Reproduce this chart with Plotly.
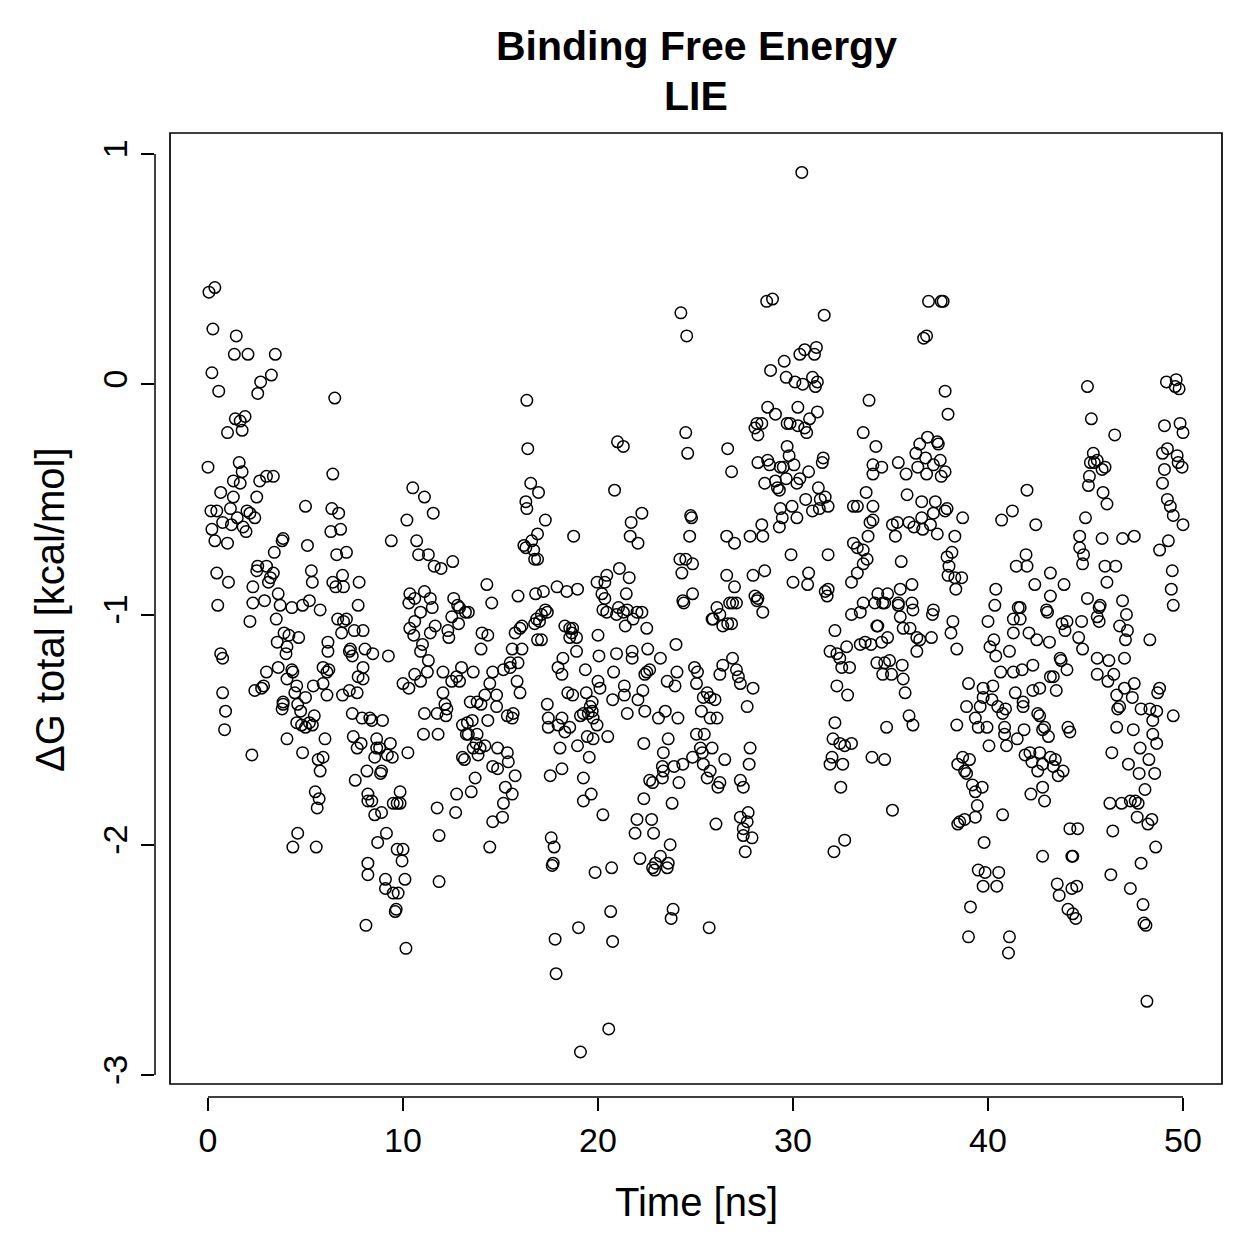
import plotly.graph_objects as go

# ---------------- data: (time [ns], dG total [kcal/mol]) ----------------
seg_00_08a = [(0.05,0.40),(0.35,0.42),(0.25,0.24),(1.45,0.21),(1.35,0.13),(2.05,0.13),(3.45,0.13),(0.2,0.05),(0.55,-0.03),(2.7,0.01),
(3.25,0.04),(2.55,-0.04),(6.5,-0.06),(1.9,-0.14),(1.4,-0.15),(1.65,-0.16),(1.0,-0.21),(1.75,-0.20),(0.0,-0.36),(1.6,-0.34),
(1.75,-0.38),(1.3,-0.42),(1.65,-0.43),(2.65,-0.42),(3.0,-0.40),(3.35,-0.40),(6.4,-0.39),(0.65,-0.47),(1.3,-0.49),(2.5,-0.49),
(0.15,-0.55),(0.45,-0.55),(1.15,-0.54),(2.0,-0.55),(2.15,-0.56),(2.4,-0.58),(1.5,-0.58),(5.0,-0.53),(6.35,-0.54),(6.7,-0.56),
(0.2,-0.63),(0.75,-0.60),(1.2,-0.61),(1.8,-0.62),(1.95,-0.64),(0.35,-0.68),(1.0,-0.69),(6.3,-0.64),(6.8,-0.63),(3.8,-0.68),
(3.85,-0.67),(3.4,-0.73),(5.1,-0.70),(6.6,-0.74),(7.1,-0.73),(0.45,-0.82),(1.05,-0.86),(2.55,-0.79),(2.5,-0.81),(3.0,-0.79),
(3.35,-0.82),(3.2,-0.84),(3.1,-0.86),(5.3,-0.81),(5.35,-0.86),(6.9,-0.83),(6.4,-0.86),(6.55,-0.88),(6.95,-0.88),(7.75,-0.86),
(2.3,-0.88),(0.5,-0.96),(2.3,-0.95),(2.9,-0.94),(3.6,-0.91),(3.7,-0.96),(4.3,-0.97),(4.85,-0.96),(5.2,-0.94),(5.75,-0.98),(7.7,-0.96)]

seg_00_08b = [(2.15,-1.03),(3.5,-1.02),(6.65,-1.02),(6.95,-1.03),(7.1,-1.02),(6.85,-1.08),(7.5,-1.07),(7.95,-1.07),(3.9,-1.08),(4.15,-1.09),
(4.65,-1.10),(3.55,-1.12),(4.05,-1.14),(6.15,-1.12),(6.15,-1.16),(4.0,-1.17),(0.65,-1.17),(0.75,-1.19),(7.25,-1.16),(7.4,-1.18),
(7.3,-1.15),(8.05,-1.15),(3.0,-1.25),(3.6,-1.23),(4.3,-1.24),(4.35,-1.25),(5.9,-1.23),(6.2,-1.24),(6.1,-1.25),(7.95,-1.23),
(7.7,-1.27),(7.95,-1.28),(4.05,-1.28),(4.55,-1.31),(5.4,-1.31),(5.9,-1.30),(2.4,-1.33),(2.75,-1.32),(2.85,-1.31),(6.9,-1.35),
(7.25,-1.33),(7.65,-1.34),(6.1,-1.35),(0.75,-1.34),(5.0,-1.36),(4.45,-1.34),(3.85,-1.38),(3.85,-1.39),(3.8,-1.41),(4.6,-1.39),
(4.75,-1.42),(0.9,-1.42),(5.45,-1.44),(7.4,-1.43),(7.9,-1.45),(8.3,-1.45),(4.55,-1.47),(4.8,-1.48),(5.0,-1.49),(5.2,-1.47),
(5.35,-1.48),(4.05,-1.54),(6.0,-1.54),(7.45,-1.53),(7.65,-1.58),(7.85,-1.56),(0.85,-1.50),(2.25,-1.61),(4.85,-1.60),(5.65,-1.63),
(5.9,-1.62),(5.75,-1.68),(7.55,-1.72),(8.15,-1.68),(5.5,-1.77),(5.7,-1.80),(5.6,-1.84),(8.2,-1.78),(8.2,-1.81),(4.6,-1.95),
(4.35,-2.01),(5.55,-2.01),(8.2,-2.08),(8.2,-2.13),(8.1,-2.35)]

seg_08_17a = [(16.35,-0.07),(16.4,-0.28),(16.55,-0.43),(16.3,-0.51),(16.35,-0.54),(10.5,-0.45),(11.1,-0.49),(11.55,-0.56),(10.2,-0.59),(9.4,-0.68),
(10.7,-0.68),(10.8,-0.74),(11.3,-0.74),(11.6,-0.79),(11.95,-0.80),(12.55,-0.77),(16.2,-0.70),(16.3,-0.71),(16.6,-0.68),(16.7,-0.72),
(16.9,-0.76),(14.3,-0.87),(15.9,-0.92),(16.8,-0.91),(10.35,-0.91),(10.6,-0.93),(11.1,-0.90),(11.4,-0.93),(10.3,-0.95),(11.5,-0.97),
(12.6,-0.93),(12.9,-0.97),(13.2,-0.99),(14.55,-0.95)]

seg_08_17b = [(12.8,-0.96),(13.35,-0.99),(10.35,-1.06),(10.55,-1.09),(10.6,-1.03),(10.9,-0.99),(11.65,-1.05),(11.4,-1.08),(12.3,-1.07),(12.35,-1.10),
(12.5,-1.01),(12.85,-1.04),(14.05,-1.08),(14.35,-1.09),(14.0,-1.15),(15.75,-1.08),(16.1,-1.05),(16.0,-1.06),(16.75,-1.04),(17.0,-1.03),
(16.9,-1.11),(15.6,-1.15),(16.1,-1.15),(8.45,-1.17),(9.25,-1.18),(10.9,-1.16),(11.3,-1.20),(11.0,-1.13),(10.0,-1.30),(10.3,-1.32),
(10.6,-1.26),(10.9,-1.29),(11.25,-1.25),(12.05,-1.25),(12.5,-1.29),(12.05,-1.34),(12.15,-1.39),(12.25,-1.41),(12.2,-1.44),(12.75,-1.27),
(13.0,-1.23),(12.9,-1.29),(13.6,-1.25),(14.6,-1.25),(15.15,-1.24),(15.5,-1.23),(15.9,-1.21),(15.5,-1.21),(14.45,-1.30),(15.85,-1.29),
(16.0,-1.34),(14.8,-1.35),(14.2,-1.35),(14.0,-1.39),(13.8,-1.38),(13.45,-1.38),(14.8,-1.40),(14.35,-1.46),(15.35,-1.44),(15.65,-1.43),
(15.6,-1.45),(11.1,-1.43),(11.75,-1.43),(11.05,-1.52),(11.8,-1.52),(8.4,-1.46),(8.95,-1.46),(13.05,-1.48),(13.3,-1.47),(13.55,-1.46),
(13.25,-1.52),(13.35,-1.52),(13.8,-1.52),(13.75,-1.56),(13.6,-1.58),(13.95,-1.58),(14.2,-1.57),(13.85,-1.61),(13.05,-1.62),(13.15,-1.63),
(13.7,-1.71),(14.85,-1.58),(15.35,-1.60),(15.4,-1.64),(14.6,-1.66),(14.85,-1.67),(15.75,-1.70),(15.25,-1.75),(15.6,-1.78),(15.15,-1.82),
(15.1,-1.88),(14.6,-1.90),(14.45,-2.01),(8.65,-1.54),(9.35,-1.56),(8.65,-1.58),(9.45,-1.62),(8.8,-1.58),(8.55,-1.62),(9.2,-1.61),
(10.25,-1.60),(8.9,-1.68),(8.85,-1.69),(8.4,-1.81),(9.5,-1.82),(9.7,-1.82),(9.85,-1.77),(9.85,-1.82),(8.55,-1.87),(8.9,-1.86),
(11.75,-1.84),(12.7,-1.86),(12.75,-1.78),(13.5,-1.77),(11.85,-1.96),(9.15,-1.95),(8.7,-1.99),(9.7,-2.02),(10.0,-2.02),(9.95,-2.07),
(9.1,-2.15),(10.1,-2.15),(9.1,-2.19),(9.5,-2.21),(9.75,-2.21),(9.65,-2.28),(9.6,-2.29),(11.85,-2.16),(10.15,-2.45)]

seg_17_26a = [(24.25,0.31),(24.55,0.21),(21.0,-0.25),(21.3,-0.27),(24.5,-0.21),(24.6,-0.30),(16.95,-0.47),(20.85,-0.46),(22.25,-0.56),(21.7,-0.60),
(21.65,-0.66),(22.05,-0.69),(24.75,-0.57),(24.8,-0.58),(24.7,-0.66),(17.3,-0.59),(16.9,-0.65),(16.75,-0.76),(18.75,-0.66),(24.2,-0.76),
(24.5,-0.76),(24.85,-0.78),(24.3,-0.82),(21.1,-0.80),(21.6,-0.84),(21.45,-0.91),(20.45,-0.83),(19.95,-0.86),(20.35,-0.86),(20.2,-0.91),
(20.35,-0.93),(17.2,-0.90),(17.9,-0.88),(18.4,-0.90),(18.95,-0.89),(24.85,-0.91),(24.35,-0.94),(24.4,-0.95),(17.3,-0.98)]

seg_17_26b = [(16.85,-1.02),(17.1,-1.00),(17.4,-0.99),(17.1,-1.11),(18.3,-1.05),(18.55,-1.06),(18.7,-1.06),(18.65,-1.08),(18.55,-1.10),(18.9,-1.10),
(18.9,-1.16),(20.0,-1.09),(20.25,-0.98),(20.45,-0.99),(20.95,-1.00),(21.05,-0.97),(21.3,-0.99),(21.5,-0.98),(22.0,-0.99),(21.8,-1.02),
(22.25,-0.99),(21.4,-1.05),(22.5,-1.06),(24.0,-1.13),(25.85,-1.02),(17.95,-1.23),(18.2,-1.19),(18.15,-1.26),(19.35,-1.24),(20.05,-1.18),
(20.95,-1.17),(20.8,-1.25),(21.75,-1.16),(21.75,-1.19),(22.55,-1.15),(23.2,-1.19),(22.5,-1.25),(22.65,-1.24),(22.4,-1.26),(23.55,-1.29),
(23.95,-1.31),(24.05,-1.25),(24.95,-1.23),(25.1,-1.25),(25.05,-1.30),(18.45,-1.34),(18.7,-1.35),(19.4,-1.34),(20.1,-1.32),(20.0,-1.29),
(19.7,-1.38),(19.6,-1.40),(20.75,-1.37),(21.35,-1.35),(21.35,-1.31),(22.3,-1.33),(22.05,-1.37),(25.4,-1.36),(25.6,-1.34),(25.75,-1.36),
(17.4,-1.39),(17.45,-1.45),(17.45,-1.49),(18.15,-1.45),(17.95,-1.48),(18.3,-1.51),(18.55,-1.49),(19.1,-1.44),(19.25,-1.43),(19.5,-1.43),
(19.7,-1.42),(19.75,-1.45),(19.95,-1.48),(19.45,-1.53),(19.75,-1.54),(18.95,-1.57),(19.55,-1.62),(20.5,-1.53),(18.05,-1.58),(21.5,-1.43),
(22.4,-1.42),(23.1,-1.45),(23.45,-1.42),(24.1,-1.45),(22.35,-1.56),(23.35,-1.60),(23.6,-1.54),(25.05,-1.52),(25.45,-1.52),(25.25,-1.58),
(25.35,-1.60),(24.85,-1.62),(25.4,-1.65),(25.6,-1.71),(25.75,-1.68),(23.3,-1.66),(23.35,-1.68),(23.3,-1.71),(23.9,-1.66),(24.35,-1.65),
(24.15,-1.73),(22.8,-1.73),(22.65,-1.72),(17.55,-1.70),(18.15,-1.67),(19.25,-1.71),(19.65,-1.78),(19.25,-1.81),(20.25,-1.87),(22.35,-1.80),
(23.8,-1.82),(22.0,-1.89),(22.75,-1.89),(21.9,-1.95),(22.85,-1.95),(23.7,-2.0),(17.6,-1.97),(17.75,-2.01),(17.65,-2.09),(17.7,-2.08),
(19.85,-2.12),(20.7,-2.10),(22.15,-2.06),(22.8,-2.10),(22.95,-2.08),(22.9,-2.11),(23.2,-2.05),(23.6,-2.08),(23.55,-2.10),(20.65,-2.29),
(23.85,-2.28),(23.75,-2.32),(19.0,-2.36),(17.8,-2.41),(20.75,-2.42),(25.7,-2.36),(17.85,-2.56),(20.55,-2.80),(19.1,-2.90)]

seg_26_34a = [(30.45,0.92),(28.65,0.36),(28.95,0.37),(31.6,0.30),(30.35,0.13),(30.6,0.15),(31.1,0.13),(31.2,0.16),(29.55,0.10),(28.85,0.06),
(29.65,0.03),(30.1,0.01),(30.5,0.00),(31.0,0.03),(31.25,0.01),(31.15,-0.01),(33.9,-0.07),(28.7,-0.10),(29.1,-0.13),(30.25,-0.10),
(31.25,-0.12),(30.85,-0.15),(28.15,-0.17),(28.05,-0.19),(28.2,-0.22),(28.4,-0.17),(29.7,-0.17),(29.85,-0.17),(30.25,-0.18),(30.6,-0.19),
(30.7,-0.21),(33.6,-0.21),(34.25,-0.27),(26.65,-0.28),(26.85,-0.38),(29.7,-0.27),(29.8,-0.31),(30.05,-0.35),(31.55,-0.32),(31.5,-0.34),
(28.2,-0.34),(28.7,-0.33),(28.8,-0.35),(29.35,-0.36),(29.5,-0.36),(29.65,-0.41),(29.1,-0.42),(29.2,-0.45),(28.55,-0.43),(29.3,-0.46),
(30.35,-0.41),(30.2,-0.43),(30.8,-0.38),(34.1,-0.35),(34.1,-0.39),(31.3,-0.45),(31.65,-0.49),(31.4,-0.50),(31.8,-0.53),(31.35,-0.54),
(31.0,-0.55),(30.65,-0.50),(29.95,-0.53),(30.2,-0.58),(29.35,-0.54),(29.45,-0.58),(29.3,-0.62),(33.1,-0.53),(33.3,-0.53),(33.75,-0.47),
(34.1,-0.53),(33.95,-0.60),(34.1,-0.59),(33.85,-0.66),(28.4,-0.61),(28.45,-0.66),(27.8,-0.66),(26.6,-0.66),(27.0,-0.69),(29.9,-0.74),
(31.8,-0.74),(33.1,-0.69),(33.3,-0.71),(33.6,-0.72),(33.8,-0.76),(33.6,-0.78),(33.3,-0.82),(33.0,-0.86),(26.6,-0.83),(27.0,-0.88),
(27.95,-0.83),(28.55,-0.81),(30.0,-0.86),(30.8,-0.82),(30.75,-0.87),(31.65,-0.90),(31.8,-0.89),(31.75,-0.92),(28.05,-0.92),(28.2,-0.93),
(26.75,-0.95),(26.9,-0.95),(27.1,-0.95),(26.1,-0.97),(33.6,-0.95),(34.2,-0.95),(34.35,-0.91)]

seg_26_34b = [(25.9,-1.02),(26.25,-1.00),(26.4,-1.05),(26.65,-1.04),(26.85,-1.04),(28.15,-0.94),(28.45,-0.99),(32.15,-1.07),(31.9,-1.16),(32.25,-1.17),
(32.4,-1.19),(32.75,-1.14),(32.5,-1.23),(32.9,-1.23),(33.0,-1.00),(33.45,-0.99),(33.45,-1.13),(33.7,-1.12),(34.0,-1.13),(34.3,-1.05),
(34.3,-1.21),(32.25,-1.31),(32.8,-1.35),(32.15,-1.47),(32.05,-1.54),(32.4,-1.56),(32.65,-1.57),(33.0,-1.56),(32.0,-1.62),(31.9,-1.65),
(32.55,-1.65),(32.45,-1.75),(34.05,-1.62),(32.65,-1.98),(32.1,-2.03),(26.9,-1.19),(26.4,-1.22),(26.25,-1.26),(27.1,-1.24),(27.2,-1.27),
(27.3,-1.30),(27.95,-1.32),(27.65,-1.40),(26.0,-1.37),(25.3,-1.42),(25.75,-1.45),(26.1,-1.45),(25.85,-1.58),(26.5,-1.63),(26.25,-1.73),
(26.15,-1.75),(27.8,-1.58),(27.75,-1.65),(27.3,-1.72),(27.45,-1.75),(26.05,-1.91),(27.3,-1.88),(27.7,-1.86),(27.65,-1.90),(27.45,-1.93),
(27.45,-1.96),(27.9,-1.97),(27.55,-2.03)]

seg_34_43a = [(36.95,0.36),(37.6,0.36),(37.7,0.36),(36.7,0.20),(36.85,0.21),(37.8,-0.03),(37.95,-0.13),(34.55,-0.36),(35.4,-0.34),(35.8,-0.39),
(35.85,-0.48),(36.9,-0.23),(36.5,-0.26),(36.3,-0.30),(36.8,-0.32),(37.4,-0.25),(37.45,-0.26),(37.55,-0.33),(37.8,-0.38),(37.6,-0.40),
(36.85,-0.39),(36.4,-0.36),(37.2,-0.35),(36.6,-0.51),(37.3,-0.51),(37.8,-0.55),(37.9,-0.54),(37.2,-0.56),(36.6,-0.58),(36.65,-0.63),
(36.2,-0.62),(35.95,-0.60),(37.05,-0.61),(37.4,-0.65),(38.3,-0.66),(38.7,-0.58),(35.1,-0.61),(35.35,-0.60),(35.25,-0.66),(35.55,-0.77),
(37.9,-0.75),(38.15,-0.73),(38.0,-0.79),(37.95,-0.83),(38.3,-0.84),(38.65,-0.84),(38.35,-0.89),(34.85,-0.91),(34.7,-0.95),(35.5,-0.89),
(36.1,-0.87),(35.4,-0.95),(36.1,-0.95),(37.2,-0.98),(42.0,-0.46),(41.25,-0.55),(40.7,-0.59),(42.45,-0.61),(41.95,-0.74),(41.45,-0.79),
(42.0,-0.79),(43.2,-0.82),(42.4,-0.87),(43.2,-0.92),(40.4,-0.89),(40.35,-0.96),(41.55,-0.97),(41.65,-0.97),(43.0,-0.98)]

seg_34_43b = [(34.6,-0.95),(35.4,-0.96),(36.15,-0.98),(35.5,-1.01),(34.35,-1.05),(35.65,-1.06),(36.0,-1.06),(36.35,-1.10),(36.5,-1.11),(37.1,-1.10),
(37.15,-1.0),(36.35,-1.16),(34.55,-1.12),(34.85,-1.10),(34.7,-1.21),(34.95,-1.20),(35.6,-1.22),(34.6,-1.26),(35.05,-1.26),(35.65,-1.28),
(35.75,-1.34),(35.95,-1.44),(36.15,-1.48),(34.8,-1.49),(34.7,-1.63),(35.1,-1.85),(38.2,-1.03),(38.1,-1.08),(38.4,-1.15),(39.0,-1.30),
(38.9,-1.40),(38.4,-1.48),(38.45,-1.65),(38.7,-1.62),(39.05,-1.63),(38.8,-1.68),(38.9,-1.69),(39.2,-1.74),(39.35,-1.77),(39.7,-1.75),
(39.45,-1.83),(39.35,-1.88),(38.55,-1.90),(38.45,-1.91),(38.8,-1.89),(39.8,-1.99),(39.5,-2.11),(39.85,-2.12),(40.55,-2.12),(39.75,-2.18),
(40.45,-2.18),(39.1,-2.27),(39.0,-2.40),(41.1,-2.40),(41.05,-2.47),(40.75,-1.87),(42.8,-2.05),(40.0,-1.03),(40.3,-1.11),(40.1,-1.14),
(40.4,-1.18),(41.1,-1.16),(41.3,-1.08),(41.65,-1.02),(41.3,-1.02),(42.1,-1.08),(42.5,-1.11),(43.15,-1.12),(40.65,-1.25),(41.3,-1.25),
(41.75,-1.24),(42.3,-1.22),(43.2,-1.27),(39.75,-1.32),(40.25,-1.31),(39.75,-1.36),(39.6,-1.40),(40.2,-1.37),(40.5,-1.40),(40.9,-1.41),
(40.75,-1.43),(41.4,-1.34),(41.8,-1.38),(41.8,-1.40),(42.3,-1.33),(42.55,-1.43),(42.65,-1.44),(39.35,-1.45),(39.5,-1.49),(39.95,-1.49),
(40.05,-1.57),(40.85,-1.49),(40.85,-1.52),(40.95,-1.57),(41.5,-1.54),(41.85,-1.50),(41.9,-1.61),(42.15,-1.60),(42.25,-1.64),(42.55,-1.68),
(42.65,-1.60),(42.8,-1.65),(43.2,-1.62),(42.8,-1.75),(42.2,-1.78),(42.9,-1.81)]

seg_43_50a = [(45.1,-0.01),(45.3,-0.15),(46.5,-0.22),(45.4,-0.30),(45.25,-0.34),(45.45,-0.34),(45.6,-0.33),(45.85,-0.37),(46.0,-0.36),(45.2,-0.40),
(45.15,-0.44),(45.9,-0.47),(46.1,-0.52),(45.0,-0.58),(44.7,-0.66),(44.7,-0.71),(44.9,-0.74),(44.85,-0.78),(45.85,-0.67),(46.9,-0.67),
(47.5,-0.66),(43.9,-0.87),(46.0,-0.79),(46.55,-0.79),(46.1,-0.86),(45.1,-0.93),(45.75,-0.96),(46.9,-0.94),(49.15,0.01),(49.65,0.02),
(49.6,-0.01),(49.8,-0.02),(49.05,-0.18),(49.85,-0.17),(50.0,-0.21),(49.2,-0.28),(48.95,-0.30),(49.7,-0.31),(49.75,-0.34),(49.95,-0.36),
(49.05,-0.37),(48.95,-0.43),(49.2,-0.50),(49.35,-0.53),(49.5,-0.57),(50.0,-0.61),(49.25,-0.68),(48.8,-0.72),(49.45,-0.81),(49.4,-0.89),
(49.5,-0.96)]

seg_43_50b = [(43.05,-0.99),(43.8,-1.04),(44.05,-1.03),(43.95,-1.07),(44.8,-1.03),(44.65,-1.10),(44.85,-1.15),(45.7,-0.97),(45.6,-1.01),(45.7,-1.03),
(47.1,-1.0),(46.75,-1.05),(47.15,-1.07),(47.05,-1.11),(48.3,-1.11),(43.7,-1.19),(43.75,-1.20),(44.05,-1.24),(43.35,-1.27),(43.5,-1.33),
(42.65,-1.32),(45.6,-1.19),(46.2,-1.20),(47.0,-1.19),(45.6,-1.26),(46.15,-1.29),(46.45,-1.26),(46.6,-1.35),(46.65,-1.41),(46.75,-1.40),
(47.0,-1.32),(47.5,-1.30),(47.4,-1.36),(47.85,-1.41),(48.3,-1.41),(48.65,-1.42),(48.8,-1.32),(48.7,-1.34),(48.45,-1.46),(49.5,-1.44),
(42.9,-1.49),(43.1,-1.53),(42.8,-1.50),(44.1,-1.49),(44.2,-1.51),(46.6,-1.49),(47.45,-1.50),(48.45,-1.52),(48.65,-1.56),(47.8,-1.58),
(48.25,-1.63),(48.55,-1.69),(47.2,-1.65),(47.75,-1.69),(46.35,-1.60),(48.05,-1.76),(43.45,-1.63),(43.35,-1.66),(43.6,-1.70),(43.85,-1.68),
(46.25,-1.82),(46.85,-1.82),(47.3,-1.81),(47.55,-1.81),(47.7,-1.82),(47.65,-1.88),(48.2,-1.91),(48.4,-1.89),(44.2,-1.93),(44.6,-1.93),
(46.4,-1.94),(44.3,-2.05),(44.35,-2.05),(48.6,-2.01),(47.85,-2.08),(46.3,-2.13),(47.3,-2.19),(43.55,-2.17),(43.65,-2.22),(44.3,-2.19),
(44.55,-2.18),(44.1,-2.28),(44.35,-2.30),(44.5,-2.32),(47.95,-2.26),(48.0,-2.34),(48.1,-2.35),(48.15,-2.68)]

x_tick_values = [0, 10, 20, 30, 40, 50]
y_tick_values = [-3, -2, -1, 0, 1]
y_tick_labels = ["-3", "-2", "-1", "0", "1"]

title_line1 = "Binding Free Energy"
title_line2 = "LIE"
x_title = "Time [ns]"
y_title = "ΔG total [kcal/mol]"

segments = [seg_00_08a, seg_00_08b, seg_08_17a, seg_08_17b, seg_17_26a, seg_17_26b,
            seg_26_34a, seg_26_34b, seg_34_43a, seg_34_43b, seg_43_50a, seg_43_50b]
time_ns = [p[0] for s in segments for p in s]
dg_total = [p[1] for s in segments for p in s]

# ---------------- figure ----------------
W = H = 1259
L, R, T, B = 155, 37, 133, 162          # plot area = axis-line extent
FONT = "Liberation Sans, Arial, Helvetica, sans-serif"
TICK_SIZE = 34
LABEL_SIZE = 40
TITLE_SIZE = 41

fig = go.Figure()
fig.add_trace(go.Scatter(
    x=time_ns, y=dg_total, mode="markers",
    marker=dict(symbol="circle-open", size=11.5, color="black", line=dict(width=1.5, color="black")),
    hoverinfo="x+y",
))

fig.update_layout(
    width=W, height=H,
    margin=dict(l=L, r=R, t=T, b=B),
    plot_bgcolor="white", paper_bgcolor="white",
    showlegend=False,
    font=dict(family=FONT, color="black", size=TICK_SIZE),
)

fig.update_xaxes(
    range=[-2.718, 52.0], tickmode="array", tickvals=x_tick_values,
    ticks="outside", ticklen=13, tickwidth=1.5, tickcolor="black",
    showgrid=False, zeroline=False, showline=False,
    tickfont=dict(family=FONT, size=TICK_SIZE, color="black"),
)
fig.update_yaxes(
    range=[-3.0955, 1.0912], tickmode="array", tickvals=y_tick_values, ticktext=y_tick_labels,
    tickangle=-90,
    ticks="outside", ticklen=13, tickwidth=1.5, tickcolor="black",
    showgrid=False, zeroline=False, showline=False,
    tickfont=dict(family=FONT, size=TICK_SIZE, color="black"),
)

pw, ph = W - L - R, H - T - B
box_x0 = (170 - L) / pw
box_y0 = (H - B - 1084) / ph

fig.add_shape(type="rect", xref="paper", yref="paper", x0=box_x0, y0=box_y0, x1=1, y1=1,
              line=dict(color="black", width=1.7), fillcolor="rgba(0,0,0,0)", layer="above")
fig.add_shape(type="line", xref="x", yref="paper", x0=x_tick_values[0], x1=x_tick_values[-1], y0=0, y1=0,
              line=dict(color="black", width=1.5))
fig.add_shape(type="line", xref="paper", yref="y", x0=0, x1=0, y0=y_tick_values[0], y1=y_tick_values[-1],
              line=dict(color="black", width=1.5))

cx = (696 - L) / pw
fig.add_annotation(text="<b>%s</b>" % title_line1, xref="paper", yref="paper", x=cx, y=(H - B - 46) / ph,
                   showarrow=False, xanchor="center", yanchor="middle",
                   font=dict(family=FONT, size=TITLE_SIZE, color="black"))
fig.add_annotation(text="<b>%s</b>" % title_line2, xref="paper", yref="paper", x=cx, y=(H - B - 96) / ph,
                   showarrow=False, xanchor="center", yanchor="middle",
                   font=dict(family=FONT, size=TITLE_SIZE, color="black"))
fig.add_annotation(text=x_title, xref="paper", yref="paper", x=cx, y=(H - B - 1202) / ph,
                   showarrow=False, xanchor="center", yanchor="middle",
                   font=dict(family=FONT, size=LABEL_SIZE, color="black"))
fig.add_annotation(text=y_title, xref="paper", yref="paper", x=(50 - L) / pw, y=(H - B - 610) / ph,
                   showarrow=False, xanchor="center", yanchor="middle", textangle=-90,
                   font=dict(family=FONT, size=LABEL_SIZE, color="black"))

fig.write_html("out.html")
